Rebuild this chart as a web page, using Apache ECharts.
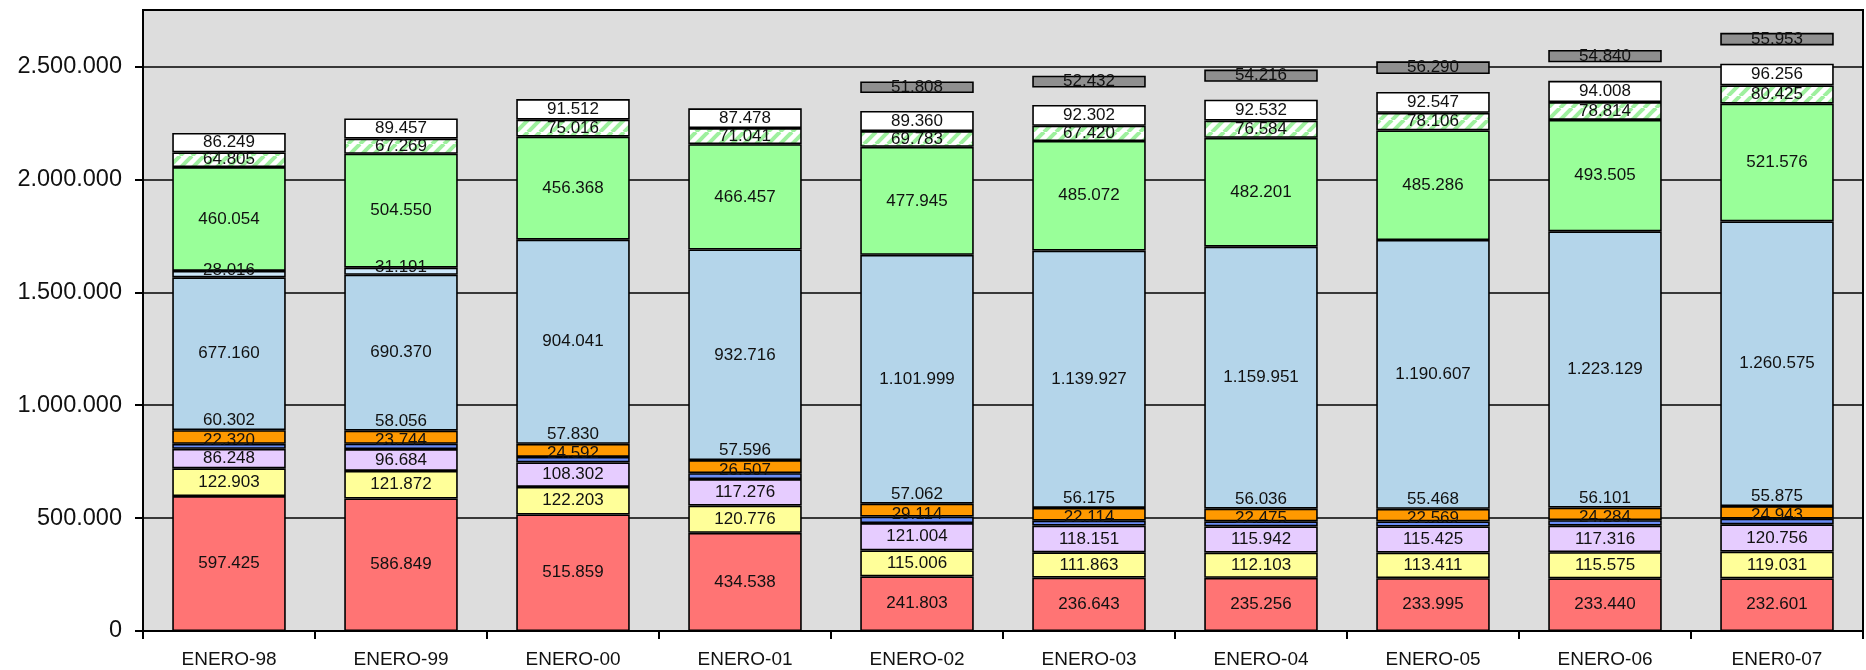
<!DOCTYPE html>
<html>
<head>
<meta charset="utf-8">
<script src="https://cdn.jsdelivr.net/npm/echarts@6/dist/echarts.min.js"></script>
<style>
  html, body { margin: 0; padding: 0; background: #fff; }
  #chart { width: 1866px; height: 670px; }
</style>
</head>
<body>
<div id="chart"></div>
<script>
var categories = ['ENERO-98', 'ENERO-99', 'ENERO-00', 'ENERO-01', 'ENERO-02', 'ENERO-03', 'ENERO-04', 'ENERO-05', 'ENERO-06', 'ENER0-07'];

var redVals      = [597425, 586849, 515859, 434538, 241803, 236643, 235256, 233995, 233440, 232601];
var yellowVals   = [122903, 121872, 122203, 120776, 115006, 111863, 112103, 113411, 115575, 119031];
var lilacVals    = [86248, 96684, 108302, 117276, 121004, 118151, 115942, 115425, 117316, 120756];
var blueVals     = [22320, 23744, 24592, 26507, 29114, 22114, 22475, 22569, 24284, 24943];
var orangeVals   = [60302, 58056, 57830, 57596, 57062, 56175, 56036, 55468, 56101, 55875];
var skyVals      = [677160, 690370, 904041, 932716, 1101999, 1139927, 1159951, 1190607, 1223129, 1260575];
var paleVals     = [28016, 31191, null, null, null, null, null, null, null, null];
var greenVals    = [460054, 504550, 456368, 466457, 477945, 485072, 482201, 485286, 493505, 521576];
var hatchVals    = [64805, 67269, 75016, 71041, 69783, 67420, 76584, 78106, 78814, 80425];
var whiteVals    = [86249, 89457, 91512, 87478, 89360, 92302, 92532, 92547, 94008, 96256];
var gapVals      = [null, null, null, null, 79000, 77000, 79000, 79000, 82000, 81000];
var greyVals     = [null, null, null, null, 51808, 52432, 54216, 56290, 54840, 55953];

var yTicks = [0, 500000, 1000000, 1500000, 2000000, 2500000];

function fmt(v) {
  return String(v).replace(/\B(?=(\d{3})+(?!\d))/g, '.');
}

// diagonal stripes for the hatched series
var tile = document.createElement('canvas');
tile.width = 12; tile.height = 12;
var tc = tile.getContext('2d');
tc.fillStyle = '#ffffff';
tc.fillRect(0, 0, 12, 12);
tc.strokeStyle = '#9ef09e';
tc.lineWidth = 4;
for (var k = -12; k <= 12; k += 12) {
  tc.beginPath();
  tc.moveTo(k, 12);
  tc.lineTo(k + 12, 0);
  tc.stroke();
}

var FONT = 'Liberation Sans, Arial, sans-serif';
var labelFont = { fontFamily: FONT, fontSize: 17, color: '#111' };

function seg(name, data, color, labelOpt) {
  var lab = Object.assign({
    show: true,
    position: 'inside',
    formatter: function (p) { return p.value == null ? '' : fmt(p.value); }
  }, labelFont, labelOpt || {});
  return {
    name: name,
    type: 'bar',
    stack: 'total',
    barCategoryGap: '34%',
    data: data,
    itemStyle: { color: color, borderColor: '#000', borderWidth: 1.6 },
    label: lab,
    emphasis: { disabled: true }
  };
}

var series = [
  seg('rojo', redVals, '#ff7474'),
  seg('amarillo', yellowVals, '#ffff99'),
  seg('lila', lilacVals, '#e6ccff'),
  seg('azul', blueVals, '#6a8cf5', { offset: [0, -6] }),
  seg('naranja', orangeVals, '#ff9900', { position: 'top', distance: 1 }),
  seg('celeste', skyVals, '#b4d5ea'),
  seg('celeste claro', paleVals, '#cde8fb', { offset: [0, -4] }),
  seg('verde', greenVals, '#99ff99'),
  seg('rayado', hatchVals, { image: tile, repeat: 'repeat' }),
  seg('blanco', whiteVals, '#ffffff'),
  {
    name: 'hueco',
    type: 'bar',
    stack: 'total',
    data: gapVals,
    silent: true,
    itemStyle: { color: 'rgba(0,0,0,0)', borderWidth: 0 },
    label: { show: false }
  },
  seg('gris', greyVals, '#8f8f8f')
];

var chart = echarts.init(document.getElementById('chart'));
chart.setOption({
  animation: false,
  backgroundColor: '#ffffff',
  grid: {
    left: 143, right: 3, top: 10, bottom: 39,
    show: true,
    backgroundColor: '#dddddd',
    borderColor: '#000',
    borderWidth: 2
  },
  xAxis: {
    type: 'category',
    data: categories,
    axisLine: { lineStyle: { color: '#000', width: 2 } },
    axisTick: { show: true, alignWithLabel: false, length: 8, lineStyle: { color: '#000', width: 2 } },
    axisLabel: { margin: 19, fontFamily: FONT, fontSize: 19, color: '#111' }
  },
  yAxis: {
    type: 'value',
    min: 0,
    max: 2750000,
    interval: 500000,
    axisLine: { show: true, lineStyle: { color: '#000', width: 2 } },
    axisTick: { show: true, length: 8, lineStyle: { color: '#000', width: 2 } },
    splitLine: { show: true, lineStyle: { color: '#000', width: 1.6 } },
    axisLabel: {
      showMaxLabel: false,
      margin: 21,
      fontFamily: FONT,
      fontSize: 23.5,
      color: '#111',
      formatter: function (v) { return yTicks.indexOf(v) >= 0 ? fmt(v) : ''; }
    }
  },
  series: series
});
</script>
</body>
</html>
